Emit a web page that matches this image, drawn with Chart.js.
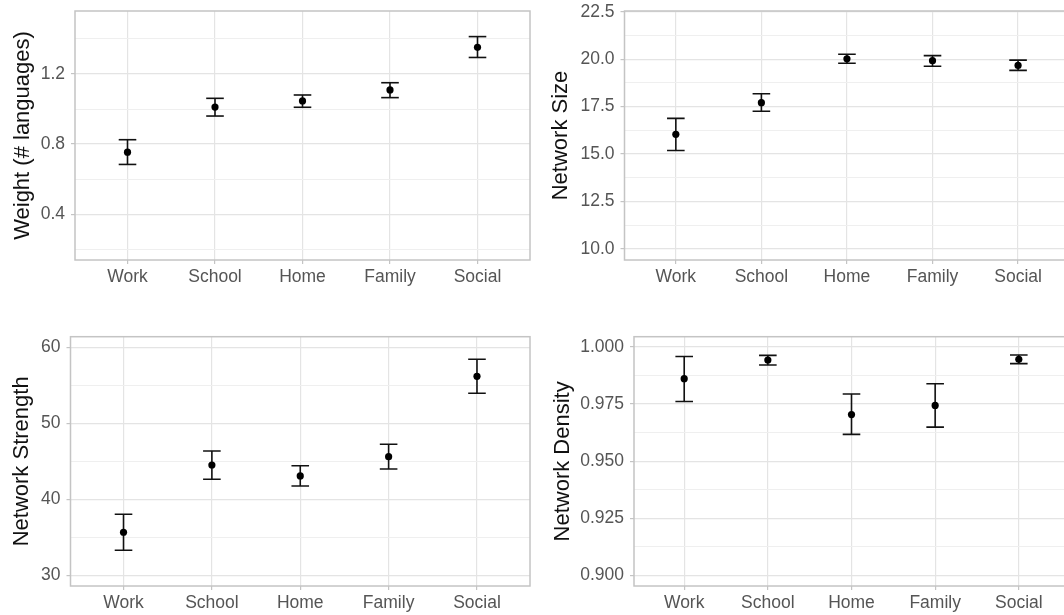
<!DOCTYPE html>
<html>
<head>
<meta charset="utf-8">
<script src="https://cdn.jsdelivr.net/npm/chart.js@4.4.1/dist/chart.umd.min.js"></script>
<style>
  html, body { margin: 0; padding: 0; background: #fff; overflow: hidden; }
  #page { position: relative; width: 1064px; height: 615px; overflow: hidden; background: #fff; }
  canvas { position: absolute; }
</style>
</head>
<body>
<div id="page">
  <canvas id="weight" width="532" height="300" style="left:0;top:0"></canvas>
  <canvas id="size" width="545" height="300" style="left:530px;top:0"></canvas>
  <canvas id="strength" width="532" height="315" style="left:0;top:300px"></canvas>
  <canvas id="density" width="545" height="315" style="left:530px;top:300px"></canvas>
</div>
<script>
// categories shared by all four panels
const categories = ['Work', 'School', 'Home', 'Family', 'Social'];

// Weight (# languages)
const weightMean = [0.754, 1.011, 1.046, 1.109, 1.352];
const weightLow = [0.684, 0.960, 1.010, 1.065, 1.294];
const weightHigh = [0.825, 1.061, 1.080, 1.150, 1.413];
const weightMajor = [0.4, 0.8, 1.2];
const weightMinor = [0.2, 0.6, 1.0, 1.4];

// Network Size
const sizeMean = [16.04, 17.71, 20.02, 19.92, 19.67];
const sizeLow = [15.19, 17.26, 19.79, 19.63, 19.41];
const sizeHigh = [16.88, 18.18, 20.26, 20.19, 19.95];
const sizeMajor = [10, 12.5, 15, 17.5, 20, 22.5];
const sizeMinor = [11.25, 13.75, 16.25, 18.75, 21.25];

// Network Strength
const strengthMean = [35.66, 44.51, 43.07, 45.61, 56.18];
const strengthLow = [33.29, 42.63, 41.75, 43.99, 53.95];
const strengthHigh = [38.03, 46.36, 44.42, 47.24, 58.42];
const strengthMajor = [30, 40, 50, 60];
const strengthMinor = [35, 45, 55];

// Network Density
const densityMean = [0.9861, 0.9943, 0.9704, 0.9744, 0.9946];
const densityLow = [0.9761, 0.9921, 0.9617, 0.9649, 0.9927];
const densityHigh = [0.9958, 0.9963, 0.9794, 0.9839, 0.9965];
const densityMajor = [0.9, 0.925, 0.95, 0.975, 1.0];
const densityMinor = [0.9125, 0.9375, 0.9625, 0.9875];

Chart.defaults.font.family = "'Liberation Sans', Arial, sans-serif";
Chart.defaults.animation = false;

const INK = '#111111';
const GRID_MAJOR = '#e4e4e4';
const GRID_MINOR = '#efefef';
const FRAME = '#c4c4c4';

// ggplot-like panel border
const panelBorder = {
    id: 'panelBorder',
    afterDatasetsDraw(chart) {
        const { ctx, chartArea: a } = chart;
        ctx.save();
        ctx.strokeStyle = FRAME;
        ctx.lineWidth = 1.5;
        ctx.strokeRect(a.left, a.top, a.right - a.left, a.bottom - a.top);
        ctx.restore();
    }
};

function noPadding(s) {
    s.paddingTop = 0;
    s.paddingBottom = 0;
    s.paddingLeft = 0;
    s.paddingRight = 0;
}

function makePanel(id, p) {
    const xs = categories.map((c, i) => i + 1);
    const allTicks = p.major.concat(p.minor).sort((a, b) => a - b);
    const isMajor = v => p.major.some(m => Math.abs(m - v) < 1e-9);

    const stems = [];
    xs.forEach((x, i) => {
        stems.push({ x: x, y: p.low[i] }, { x: x, y: p.high[i] }, { x: x, y: null });
    });
    const caps = xs.map((x, i) => ({ x: x, y: p.low[i] }))
        .concat(xs.map((x, i) => ({ x: x, y: p.high[i] })));

    new Chart(document.getElementById(id), {
        type: 'scatter',
        data: {
            datasets: [
                {
                    data: xs.map((x, i) => ({ x: x, y: p.mean[i] })),
                    pointRadius: 3.6,
                    backgroundColor: '#000',
                    borderWidth: 0
                },
                {
                    data: caps,
                    pointStyle: 'line',
                    pointRadius: 8.8,
                    borderColor: INK,
                    borderWidth: 1.6
                },
                {
                    data: stems,
                    showLine: true,
                    spanGaps: false,
                    pointRadius: 0,
                    borderColor: INK,
                    borderWidth: 1.6
                }
            ]
        },
        options: {
            responsive: false,
            layout: {
                autoPadding: false,
                padding: { top: p.top, right: p.right, left: 0, bottom: 0 }
            },
            plugins: { legend: { display: false }, tooltip: { enabled: false } },
            scales: {
                x: {
                    type: 'linear',
                    min: 0.4,
                    max: 5.6,
                    afterBuildTicks: s => { s.ticks = xs.map(v => ({ value: v })); },
                    afterFit: s => { s.height = p.axisHeight; noPadding(s); },
                    ticks: {
                        callback: v => categories[Math.round(v) - 1],
                        color: '#555555',
                        font: { size: 17.5 },
                        padding: 3,
                        maxRotation: 0,
                        autoSkip: false
                    },
                    grid: {
                        color: GRID_MAJOR,
                        lineWidth: 1.2,
                        tickLength: 4,
                        tickColor: FRAME,
                        tickWidth: 1.2
                    },
                    border: { display: false }
                },
                y: {
                    type: 'linear',
                    min: p.yMin,
                    max: p.yMax,
                    afterBuildTicks: s => { s.ticks = allTicks.map(v => ({ value: v })); },
                    afterFit: s => { s.width = p.axisWidth; noPadding(s); },
                    ticks: {
                        callback: v => isMajor(v) ? v.toFixed(p.digits) : '',
                        color: '#555555',
                        font: { size: 17.5 },
                        padding: 6,
                        autoSkip: false
                    },
                    grid: {
                        color: c => (c.tick && isMajor(c.tick.value)) ? GRID_MAJOR : GRID_MINOR,
                        lineWidth: c => (c.tick && isMajor(c.tick.value)) ? 1.2 : 1,
                        tickLength: 4,
                        tickColor: c => (c.tick && isMajor(c.tick.value)) ? FRAME : 'rgba(0,0,0,0)',
                        tickWidth: 1.2
                    },
                    border: { display: false },
                    title: {
                        display: true,
                        text: p.title,
                        color: INK,
                        font: { size: 22 },
                        padding: { top: p.titleOffset, bottom: 0 }
                    }
                }
            }
        },
        plugins: [panelBorder]
    });
}

makePanel('weight', {
    mean: weightMean, low: weightLow, high: weightHigh,
    major: weightMajor, minor: weightMinor, digits: 1,
    yMin: 0.139, yMax: 1.559, title: 'Weight (# languages)',
    axisWidth: 75, axisHeight: 40, top: 11, right: 2, titleOffset: 10
});

makePanel('size', {
    mean: sizeMean, low: sizeLow, high: sizeHigh,
    major: sizeMajor, minor: sizeMinor, digits: 1,
    yMin: 9.42, yMax: 22.54, title: 'Network Size',
    axisWidth: 94.5, axisHeight: 40, top: 11, right: 5.6, titleOffset: 17.4
});

makePanel('strength', {
    mean: strengthMean, low: strengthLow, high: strengthHigh,
    major: strengthMajor, minor: strengthMinor, digits: 0,
    yMin: 28.59, yMax: 61.39, title: 'Network Strength',
    axisWidth: 70.5, axisHeight: 29, top: 36.7, right: 2, titleOffset: 8.8
});

makePanel('density', {
    mean: densityMean, low: densityLow, high: densityHigh,
    major: densityMajor, minor: densityMinor, digits: 3,
    yMin: 0.8953, yMax: 1.0045, title: 'Network Density',
    axisWidth: 104, axisHeight: 29, top: 36.7, right: 6, titleOffset: 19.5
});
</script>
</body>
</html>
